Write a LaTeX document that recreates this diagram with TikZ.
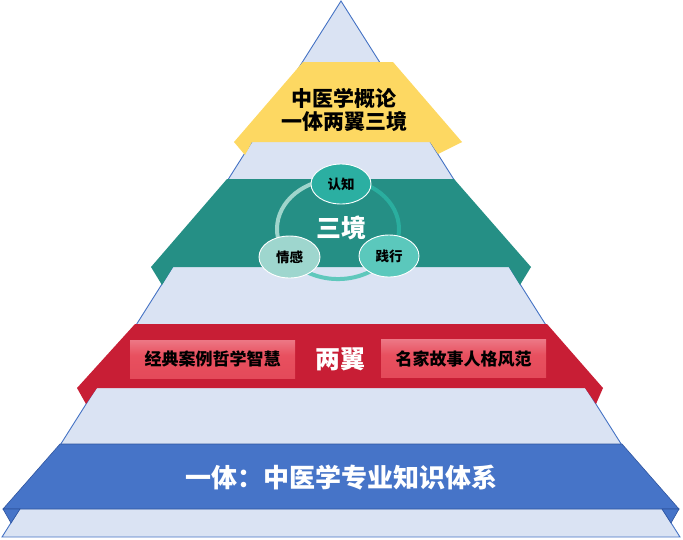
\documentclass[tikz,border=0pt]{standalone}
\usepackage{fontspec}
\setmainfont{Noto Sans CJK SC}
\usetikzlibrary{shapes.geometric}
\definecolor{pyrfill}{HTML}{DAE3F3}
\definecolor{pyrline}{HTML}{4472C4}
\definecolor{yelband}{HTML}{FDD862}
\definecolor{tealband}{HTML}{258F85}
\definecolor{redband}{HTML}{C81E35}
\definecolor{blueband}{HTML}{4674C8}
\definecolor{blueline}{HTML}{2F55A0}
\definecolor{ringlight}{HTML}{9FD5CC}
\definecolor{ringteal}{HTML}{2AAE9F}
\definecolor{ringmid}{HTML}{5FC8BC}
\definecolor{ellteal}{HTML}{2BAFA2}
\definecolor{elllight}{HTML}{9ED6CE}
\definecolor{ellmid}{HTML}{5BC8BC}
\definecolor{boxtop}{HTML}{F8D9DD}
\definecolor{boxup}{HTML}{EE8592}
\definecolor{boxmid}{HTML}{E8505F}
\definecolor{boxbot}{HTML}{E04455}
\pgfdeclareverticalshading{redboxshade}{100bp}{color(0bp)=(boxbot); color(55bp)=(boxmid); color(82bp)=(boxup); color(100bp)=(boxtop)}
\begin{document}
\begin{tikzpicture}[x=1pt,y=-1pt,
  pyr/.style={fill=pyrfill,draw=pyrline,line width=0.9pt,line join=miter},
  yel/.style={fill=yelband},
  teal/.style={fill=tealband},
  redb/.style={fill=redband},
  blueb/.style={fill=blueband,draw=blueline,line width=0.6pt},
  ring/.style={line width=4pt},
  ellnode/.style={ellipse,draw=white,line width=0.9pt,minimum width=60pt,minimum height=40pt,inner sep=0pt,
    font=\bfseries\fontsize{13.5}{15}\selectfont,text=black},
  rbox/.style={shading=redboxshade,minimum width=165pt,minimum height=38pt,inner sep=0pt,
    font=\bfseries\fontsize{17}{18}\selectfont,text=black},
  bigwhite/.style={text=white,font=\bfseries\fontsize{25}{27}\selectfont,inner sep=0pt},
  ytext/.style={text=black,align=center,font=\bfseries\fontsize{21}{24}\selectfont,inner sep=0pt}
]
\useasboundingbox (0,0) rectangle (683,539);
% pyramid
\draw[pyr] (341,1) -- (2,537) -- (680,537) -- cycle;
% yellow band
\fill[yel] (303,62) -- (393,62) -- (462,142) -- (234,142) -- cycle;
\fill[yel] (234,142) -- (252,142) -- (245,155) -- cycle;
\fill[yel] (462,142) -- (430,142) -- (438,154) -- cycle;
% teal band
\fill[teal] (227,179) -- (454,179) -- (531,267) -- (151,267) -- cycle;
\fill[teal] (151,267) -- (173,267) -- (162,285) -- cycle;
\fill[teal] (531,267) -- (509,267) -- (520,285) -- cycle;
% red band
\fill[redb] (135,324) -- (547,324) -- (603,388) -- (77,388) -- cycle;
\fill[redb] (77,388) -- (97,388) -- (86,404) -- cycle;
\fill[redb] (603,388) -- (585,388) -- (596,404) -- cycle;
% blue band
\draw[blueb] (60,444) -- (622,444) -- (679,509) -- (3,509) -- cycle;
\draw[blueb] (3,509) -- (20,509) -- (11,523) -- cycle;
\draw[blueb] (679,509) -- (662,509) -- (671,523) -- cycle;
% top text
\node[ytext] (gailun) at (344,110) {中医学概论\\[-0.5pt]一体两翼三境};
% ring
\draw[ring,ringlight] (338,179) arc[start angle=-90,end angle=-217.3,x radius=61,y radius=50];
\draw[ring,ringteal] (338,179) arc[start angle=-90,end angle=33.3,x radius=61,y radius=50];
\draw[ring,ringmid] (389,256.5) arc[start angle=33.3,end angle=142.7,x radius=61,y radius=50];
\node[bigwhite] (sanjing) at (341,228) {三境};
\node[ellnode,fill=ellteal] (renzhi) at (341,184) {认知};
\node[ellnode,fill=elllight,minimum height=42pt,minimum width=61pt] (qinggan) at (289.5,257) {情感};
\node[ellnode,fill=ellmid,minimum height=42pt] (jianxing) at (389,256) {践行};
% red band boxes
\node[rbox] (jingdian) at (212.5,359) {经典案例哲学智慧};
\node[rbox] (mingjia) at (463.5,358.5) {名家故事人格风范};
\node[bigwhite] (liangyi) at (340,359) {两翼};
% blue band text
\node[bigwhite,font=\bfseries\fontsize{26}{28}\selectfont] (yiti) at (341,478) {一体：中医学专业知识体系};
\end{tikzpicture}
\end{document}
